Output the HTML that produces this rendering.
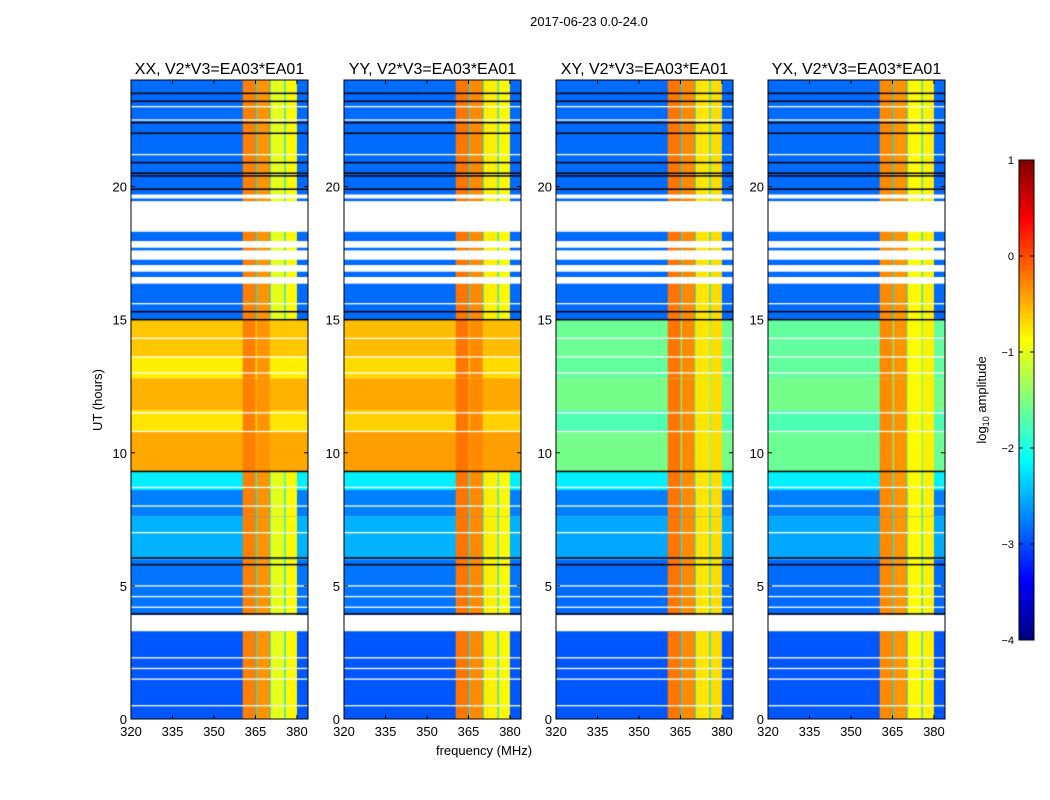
<!DOCTYPE html>
<html><head><meta charset="utf-8"><style>
body{margin:0;background:#fff;width:1050px;height:800px;overflow:hidden;position:relative;font-family:"Liberation Sans",sans-serif}
canvas,svg{position:absolute;left:0;top:0}
text{font-family:"Liberation Sans",sans-serif;fill:#000}
</style></head><body>
<canvas id="cv" width="1050" height="800"></canvas>
<svg id="sv" width="1050" height="800"></svg>
<script>
// ---- data ----
const panelTitles = ["XX, V2*V3=EA03*EA01","YY, V2*V3=EA03*EA01","XY, V2*V3=EA03*EA01","YX, V2*V3=EA03*EA01"];
const xTicks = [320,335,350,365,380];
const yTicks = [0,5,10,15,20];
const cbTicks = [1,0,-1,-2,-3,-4];
// time segments: start hour, end hour
const segStart = [0, 3.9, 6.0, 7.6, 8.6, 9.3, 10.8, 11.6, 12.8, 13.6, 15.0, 16.3, 19.4];
const segEnd   = [3.3, 6.0, 7.6, 8.6, 9.3, 10.8, 11.6, 12.8, 13.6, 15.0, 16.3, 19.4, 24.0];
// background log10 amplitude per segment, per polarisation
const bgXX = [-2.95,-2.8,-2.5,-2.75,-2.2,-0.45,-0.75,-0.5,-0.8,-0.6,-2.85,-2.85,-2.85];
const bgYY = [-2.95,-2.8,-2.5,-2.75,-2.2,-0.4,-0.65,-0.45,-0.7,-0.55,-2.85,-2.85,-2.85];
const bgXY = [-2.95,-2.85,-2.55,-2.75,-2.2,-1.55,-1.75,-1.55,-1.65,-1.6,-2.85,-2.85,-2.85];
const bgYX = [-2.95,-2.85,-2.55,-2.75,-2.2,-1.6,-1.75,-1.55,-1.65,-1.65,-2.85,-2.85,-2.85];
// RFI frequency blocks (MHz)
const rfiStart = [360.4, 365.1, 365.5, 370.2, 370.5, 375.6, 376.0];
const rfiEnd   = [365.1, 365.5, 370.2, 370.5, 375.6, 376.0, 380.0];
const rfiXX = [-0.25, -2.0, -0.35, -2.0, -1.0, -2.0, -0.85];
const rfiYY = [-0.2, -2.0, -0.3, -2.0, -0.8, -2.0, -0.85];
const rfiXY = [-0.2, -2.0, -0.3, -2.0, -0.75, -2.0, -0.7];
const rfiYX = [-0.3, -2.0, -0.35, -2.0, -0.85, -2.0, -0.8];
// flagged (blank) intervals, hours
const flagStart = [3.3, 16.35, 16.8, 17.25, 17.7, 18.3, 19.55];
const flagEnd   = [3.9, 16.6, 17.05, 17.6, 17.95, 19.45, 19.7];
// thin white lines and black lines (hours)
const whiteLines = [0.5,1.5,1.9,2.3,4.2,4.6,5.0,7.0,8.0,8.7,10.8,11.5,13.0,13.6,14.3,15.6,21.2,22.5,23.0];
const blackLines = [3.95,5.8,6.05,9.3,15.0,15.3,19.9,20.4,20.5,20.9,22.0,22.4,23.2,23.5];

const bgs=[bgXX,bgYY,bgXY,bgYX], rfis=[rfiXX,rfiYY,rfiXY,rfiYX];
const panelX=[131,344,556,768], PW=177, PT=80, PB=719;
const fMin=320,fMax=384,tMin=0,tMax=24;
const xs=(p,f)=>panelX[p]+(f-fMin)/(fMax-fMin)*PW;
const ys=t=>PB-(t-tMin)/(tMax-tMin)*(PB-PT);
const vmin=-4,vmax=1;
function jet(v){let x=(v-vmin)/(vmax-vmin);x=Math.max(0,Math.min(1,x));
 const c=a=>Math.round(255*Math.max(0,Math.min(1,a)));
 return `rgb(${c(1.5-Math.abs(4*x-3))},${c(1.5-Math.abs(4*x-2))},${c(1.5-Math.abs(4*x-1))})`;}

const ctx=document.getElementById('cv').getContext('2d');
for(let p=0;p<4;p++){
 for(let s=0;s<segStart.length;s++){
  const y1=ys(segEnd[s]),y0=ys(segStart[s]);
  ctx.fillStyle=jet(bgs[p][s]);
  ctx.fillRect(xs(p,fMin),y1,PW,y0-y1);
  for(let b=0;b<rfiStart.length;b++){
   const v=Math.max(bgs[p][s],rfis[p][b]);
   ctx.fillStyle=jet(v);
   ctx.fillRect(xs(p,rfiStart[b]),y1,xs(p,rfiEnd[b])-xs(p,rfiStart[b]),y0-y1);
  }
 }
 ctx.fillStyle='#fff';
 for(let i=0;i<flagStart.length;i++){const y1=ys(flagEnd[i]);ctx.fillRect(xs(p,fMin),y1,PW,ys(flagStart[i])-y1);}
 for(const t of whiteLines){ctx.fillRect(xs(p,fMin),ys(t)-0.6,PW,1.3);}
 ctx.fillStyle='#000';
 for(const t of blackLines){ctx.fillRect(xs(p,fMin),ys(t)-0.7,PW,1.5);}
}
// colorbar
const cbX=1019,cbW=15,cbT=160,cbB=640;
for(let i=0;i<cbB-cbT;i++){const v=vmax-(i+0.5)/(cbB-cbT)*(vmax-vmin);ctx.fillStyle=jet(v);ctx.fillRect(cbX,cbT+i,cbW,1);}

const svg=document.getElementById('sv');const NS='http://www.w3.org/2000/svg';
function mk(tag,attrs,txt){const e=document.createElementNS(NS,tag);for(const k in attrs)e.setAttribute(k,attrs[k]);if(txt!==undefined)e.textContent=txt;svg.appendChild(e);return e;}
let e;
e=mk('text',{x:589,y:26,'text-anchor':'middle','font-size':13},'2017-06-23 0.0-24.0');


for(let p=0;p<4;p++){
 const x0=panelX[p];
 e=mk('rect',{x:x0,y:PT,width:PW,height:PB-PT,fill:'none',stroke:'#000','stroke-width':1});
 
 
 e=mk('text',{x:x0+PW/2,y:74,'text-anchor':'middle','font-size':16},panelTitles[p]);
 
 
 for(const f of xTicks){const x=xs(p,f);
  mk('line',{x1:x,x2:x,y1:PB,y2:PB-4,stroke:'#000'});mk('line',{x1:x,x2:x,y1:PT,y2:PT+4,stroke:'#000'});
  e=mk('text',{x:x,y:PB+17,'text-anchor':'middle','font-size':13},String(f));
  
  }
 for(const t of yTicks){const y=ys(t);
  mk('line',{x1:x0,x2:x0+4,y1:y,y2:y,stroke:'#000'});mk('line',{x1:x0+PW,x2:x0+PW-4,y1:y,y2:y,stroke:'#000'});
  e=mk('text',{x:x0-4,y:y+5,'text-anchor':'end','font-size':13},String(t));
  
  }
}
e=mk('text',{x:0,y:0,'text-anchor':'middle','font-size':13,transform:'translate(102,400) rotate(-90)'},'UT (hours)');


e=mk('text',{x:484,y:755,'text-anchor':'middle','font-size':13},'frequency (MHz)');


e=mk('rect',{x:cbX,y:cbT,width:cbW,height:cbB-cbT,fill:'none',stroke:'#000'});


for(const v of cbTicks){const y=cbT+(vmax-v)/(vmax-vmin)*(cbB-cbT);
 mk('line',{x1:cbX,x2:cbX+4,y1:y,y2:y,stroke:'#000'});mk('line',{x1:cbX+cbW,x2:cbX+cbW-4,y1:y,y2:y,stroke:'#000'});
 e=mk('text',{x:1014,y:y+4,'text-anchor':'end','font-size':11},v<0?'\u2212'+(-v):String(v));
 
 }
e=mk('text',{x:0,y:0,'text-anchor':'middle','font-size':13,transform:'translate(986,400) rotate(-90)'});
e.innerHTML='log<tspan font-size="9" dy="3">10</tspan><tspan dy="-3"> amplitude</tspan>';


</script>
</body></html>
